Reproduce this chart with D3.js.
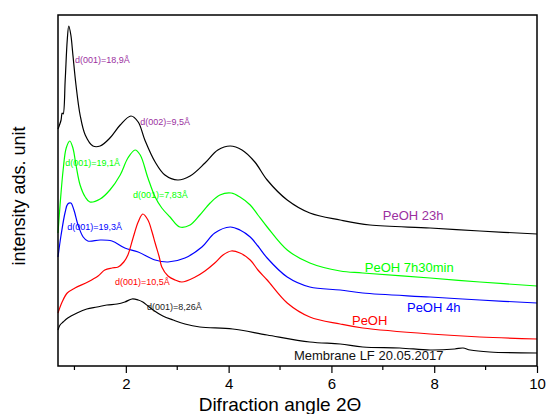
<!DOCTYPE html>
<html>
<head>
<meta charset="utf-8">
<script src="https://cdn.jsdelivr.net/npm/d3@7"></script>
<style>
  body { margin: 0; background: #fff; }
  text { font-family: Arial, "Liberation Sans", sans-serif; }
</style>
</head>
<body>
<div id="chart"></div>
<script>
// 2theta (deg) / intensity (a.u.)
const peoh23h = [
  [0.68, 2370], [0.74, 2460], [0.76, 2530], [0.78, 2520], [0.82, 2860], [0.86, 3260],
  [0.89, 3400], [0.93, 3310], [0.97, 3110], [1.03, 2810], [1.11, 2510], [1.21, 2310],
  [1.36, 2200], [1.50, 2200], [1.69, 2280], [1.89, 2410], [2.10, 2500], [2.24, 2440],
  [2.37, 2260], [2.57, 2040], [2.76, 1910], [3.01, 1860], [3.25, 1900], [3.54, 2030],
  [3.79, 2160], [4.03, 2200], [4.26, 2160], [4.51, 2040], [4.75, 1860], [5.14, 1660],
  [5.58, 1530], [6.17, 1460], [6.75, 1410], [7.92, 1380], [8.89, 1350], [10.0, 1320]
];
const peoh7h30 = [
  [0.68, 1330], [0.72, 1610], [0.78, 1960], [0.84, 2180], [0.91, 2250], [0.97, 2180],
  [1.03, 2010], [1.11, 1810], [1.21, 1690], [1.30, 1640], [1.50, 1670], [1.69, 1760],
  [1.89, 1910], [2.04, 2080], [2.18, 2160], [2.28, 2110], [2.43, 1880], [2.57, 1690],
  [2.70, 1580], [2.86, 1490], [3.05, 1390], [3.25, 1410], [3.44, 1510], [3.64, 1630],
  [3.83, 1710], [4.05, 1730], [4.22, 1690], [4.42, 1610], [4.57, 1510], [4.75, 1390],
  [5.14, 1160], [5.58, 1030], [6.17, 950], [6.61, 930], [7.92, 880], [8.89, 840], [10.0, 800]
];
const peoh4h = [
  [0.68, 1090], [0.74, 1310], [0.82, 1540], [0.87, 1620], [0.93, 1630], [0.99, 1560],
  [1.07, 1410], [1.17, 1290], [1.26, 1250], [1.50, 1260], [1.73, 1250], [1.98, 1180],
  [2.24, 1140], [2.57, 1060], [2.82, 1040], [3.15, 1080], [3.48, 1190], [3.73, 1330],
  [4.03, 1390], [4.22, 1360], [4.42, 1290], [4.57, 1200], [4.75, 1080], [5.14, 890],
  [5.58, 790], [6.17, 760], [6.61, 730], [7.92, 690], [8.89, 660], [10.0, 630]
];
const peoh = [
  [0.68, 530], [0.76, 640], [0.86, 730], [1.01, 780], [1.26, 840], [1.46, 900],
  [1.59, 960], [1.73, 980], [1.85, 990], [1.96, 1040], [2.04, 1110], [2.14, 1280],
  [2.24, 1440], [2.33, 1520], [2.43, 1460], [2.51, 1340], [2.57, 1230], [2.65, 1090],
  [2.70, 990], [2.82, 900], [2.96, 860], [3.09, 840], [3.35, 890], [3.54, 950],
  [3.73, 1030], [3.89, 1110], [4.05, 1150], [4.22, 1130], [4.42, 1060], [4.57, 960],
  [4.75, 860], [5.14, 630], [5.58, 490], [6.17, 420], [6.61, 380], [7.92, 320],
  [8.89, 290], [10.0, 270]
];
const membrane = [
  [0.68, 360], [0.72, 410], [0.78, 440], [0.87, 480], [1.05, 530], [1.24, 570],
  [1.44, 590], [1.63, 610], [1.83, 620], [1.98, 640], [2.12, 670], [2.24, 660],
  [2.33, 640], [2.43, 600], [2.53, 560], [2.72, 500], [2.92, 460], [3.15, 420],
  [3.44, 390], [4.08, 370], [4.75, 310], [5.58, 240], [6.17, 220], [6.61, 190],
  [7.33, 180], [7.92, 160], [8.40, 170], [8.56, 180], [8.70, 160], [9.08, 140], [10.0, 130]
];

const seriesNames = ["PeOH 23h", "PeOH 7h30min", "PeOH 4h", "PeOH", "Membrane LF 20.05.2017"];
const xTicks = [2, 4, 6, 8, 10];
const xMinorTicks = [1, 3, 5, 7, 9];

// peak annotations, anchored in data units
const peakNotes = [
  { text: "d(001)=18,9Å", x: 1.01, y: 3030, color: "#9b30a0" },
  { text: "d(002)=9,5Å", x: 2.28, y: 2410, color: "#9b30a0" },
  { text: "d(001)=19,1Å", x: 0.82, y: 2000, color: "#00ff00" },
  { text: "d(001)=7,83Å", x: 2.14, y: 1680, color: "#00ff00" },
  { text: "d(001)=19,3Å", x: 0.86, y: 1360, color: "#0000ff" },
  { text: "d(001)=10,5Å", x: 1.79, y: 810, color: "#ff0000" },
  { text: "d(001)=8,26Å", x: 2.41, y: 560, color: "#222" }
];
const nameNotes = [
  { x: 7.0, y: 1460, color: "#9b30a0" },
  { x: 6.65, y: 940, color: "#00ff00" },
  { x: 7.47, y: 540, color: "#0000ff" },
  { x: 6.40, y: 410, color: "#ff0000" },
  { x: 5.27, y: 60, color: "#111" }
];

const margin = { top: 15, right: 9, bottom: 48, left: 58 };
const width = 546 - margin.left - margin.right;
const height = 414 - margin.top - margin.bottom;

const svg = d3.select("#chart").append("svg")
  .attr("width", 546).attr("height", 414);

const g = svg.append("g")
  .attr("transform", `translate(${margin.left},${margin.top})`);

const x = d3.scaleLinear().domain([0.68, 10]).range([0, width]);
const y = d3.scaleLinear().domain([0, 3510]).range([height, 0]);

const line = d3.line()
  .x(d => x(d[0]))
  .y(d => y(d[1]))
  .curve(d3.curveCatmullRom.alpha(0.5));

const curves = [
  { data: peoh23h, color: "#000" },
  { data: peoh7h30, color: "#00ff00" },
  { data: peoh4h, color: "#0000ff" },
  { data: peoh, color: "#ff0000" },
  { data: membrane, color: "#000" }
];

g.selectAll("path.curve")
  .data(curves)
  .join("path")
  .attr("class", "curve")
  .attr("d", d => line(d.data))
  .attr("fill", "none")
  .attr("stroke", d => d.color)
  .attr("stroke-width", 1.2);

// frame
g.append("rect")
  .attr("width", width).attr("height", height)
  .attr("fill", "none").attr("stroke", "#000").attr("stroke-width", 1.5);

// bottom axis
const xAxis = g.append("g")
  .attr("transform", `translate(0,${height})`)
  .call(d3.axisBottom(x).tickValues(xTicks).tickSize(7).tickPadding(5).tickFormat(d3.format("d")));
xAxis.select(".domain").remove();
xAxis.selectAll("line").attr("stroke-width", 1.2);
xAxis.selectAll("text").style("font-size", "15px").attr("fill", "#000");

g.append("g")
  .attr("transform", `translate(0,${height})`)
  .selectAll("line")
  .data(xMinorTicks)
  .join("line")
  .attr("x1", d => x(d)).attr("x2", d => x(d))
  .attr("y1", 0).attr("y2", 4)
  .attr("stroke", "#000").attr("stroke-width", 1.2);

// annotations
g.selectAll("text.peak")
  .data(peakNotes)
  .join("text")
  .attr("class", "peak")
  .attr("x", d => x(d.x))
  .attr("y", d => y(d.y))
  .attr("fill", d => d.color)
  .style("font-size", "9px")
  .text(d => d.text);

g.selectAll("text.name")
  .data(nameNotes)
  .join("text")
  .attr("class", "name")
  .attr("x", d => x(d.x))
  .attr("y", d => y(d.y))
  .attr("fill", d => d.color)
  .style("font-size", "13px")
  .text((d, i) => seriesNames[i]);

// axis titles
svg.append("text")
  .attr("x", 280)
  .attr("y", 411)
  .attr("text-anchor", "middle")
  .style("font-size", "19px")
  .text("Difraction angle 2Θ");

svg.append("text")
  .attr("transform", "rotate(-90)")
  .attr("x", -196)
  .attr("y", 25)
  .attr("text-anchor", "middle")
  .style("font-size", "18px")
  .text("intensity ads. unit");
</script>
</body>
</html>
